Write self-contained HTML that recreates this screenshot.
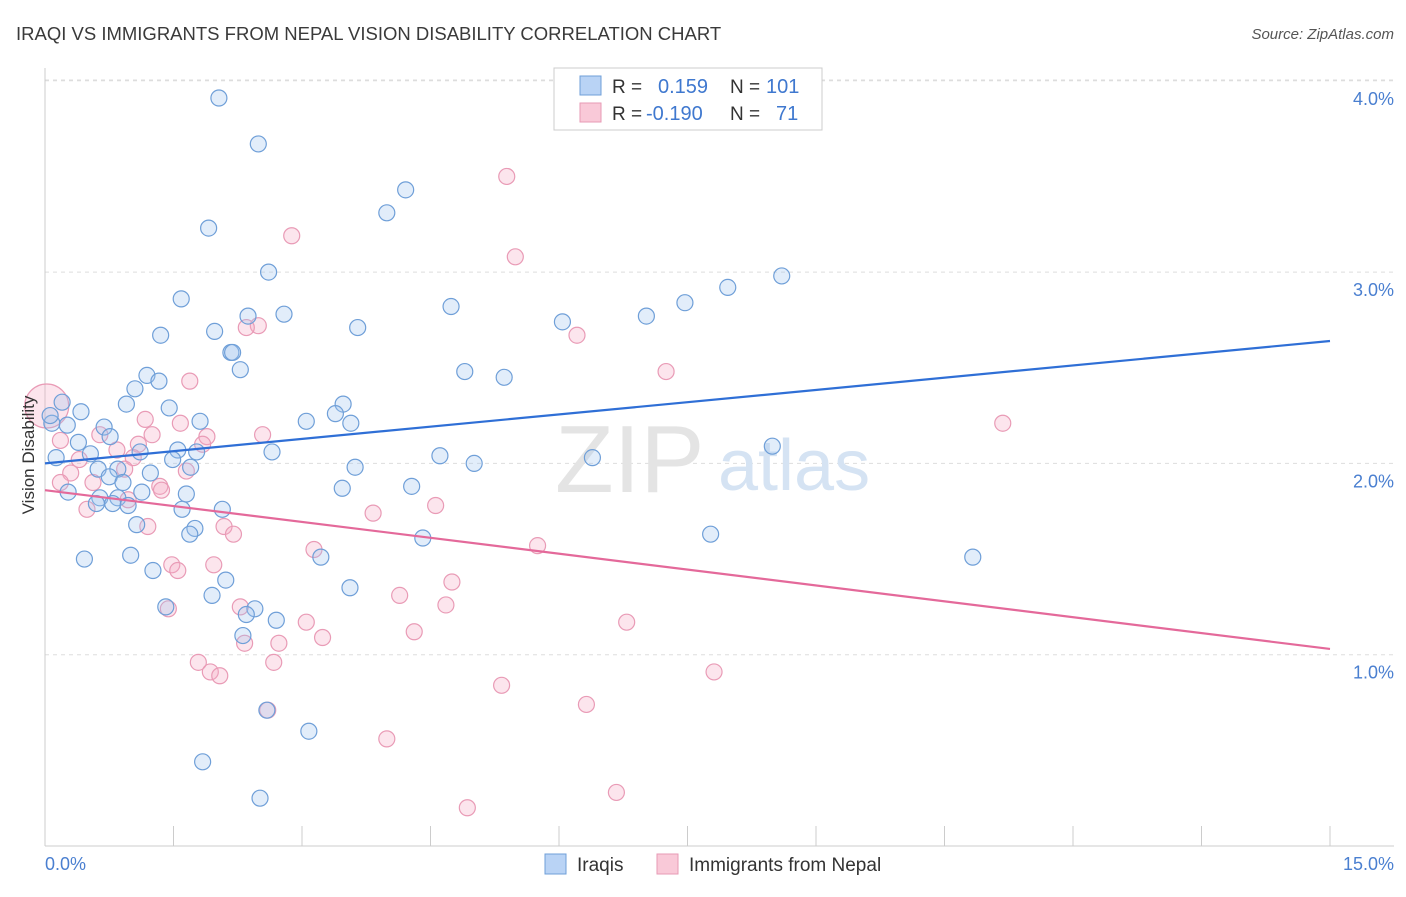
<!DOCTYPE html>
<html><head><meta charset="utf-8">
<style>
body{margin:0;background:#fff;font-family:"Liberation Sans",sans-serif;}
svg text{font-family:"Liberation Sans",sans-serif;}
</style></head>
<body>
<svg id="chart" width="1406" height="892" viewBox="0 0 1406 892" xmlns="http://www.w3.org/2000/svg">
<text x="16" y="40" font-size="18.5" fill="#3a3a3a">IRAQI VS IMMIGRANTS FROM NEPAL VISION DISABILITY CORRELATION CHART</text>
<text x="1394" y="39" font-size="15" fill="#555" font-style="italic" text-anchor="end">Source: ZipAtlas.com</text>
<g id="grid"></g>
<text x="555" y="492" font-size="96" fill="#e4e4e4" font-family="Liberation Serif">ZIP</text>
<text x="718" y="490" font-size="72" fill="#d5e3f3">atlas</text>
<g id="points"></g>
<g id="trends"></g>
<text transform="translate(34,455) rotate(-90)" font-size="17" fill="#333" text-anchor="middle">Vision Disability</text>
<text x="45" y="870" font-size="18" fill="#4a7fd0">0.0%</text>
<text x="1394" y="870" font-size="18" fill="#4a7fd0" text-anchor="end">15.0%</text>
<g>
<rect x="554" y="68" width="268" height="62" fill="#fff" stroke="#ccc"/>
<rect x="580" y="76" width="21" height="19" fill="#b9d3f5" stroke="#6f9fd8"/>
<rect x="580" y="103" width="21" height="19" fill="#f9c9d8" stroke="#e79ab5"/>
<text x="612" y="93" font-size="19" fill="#333">R =</text>
<text x="658" y="93" font-size="20" fill="#3f78cf">0.159</text>
<text x="730" y="93" font-size="19" fill="#333">N =</text>
<text x="766" y="93" font-size="20" fill="#3f78cf">101</text>
<text x="612" y="120" font-size="19" fill="#333">R =</text>
<text x="646" y="120" font-size="20" fill="#3f78cf">-0.190</text>
<text x="730" y="120" font-size="19" fill="#333">N =</text>
<text x="776" y="120" font-size="20" fill="#3f78cf">71</text>
</g>
<g>
<rect x="545" y="854" width="21" height="20" fill="#b9d3f5" stroke="#6f9fd8"/>
<text x="577" y="871" font-size="19" fill="#333">Iraqis</text>
<rect x="657" y="854" width="21" height="20" fill="#f9c9d8" stroke="#e79ab5"/>
<text x="689" y="871" font-size="19" fill="#333">Immigrants from Nepal</text>
</g>
</svg>
<script>
const yTicks=[1,2,3,4];
const yTickLabels=["1.0%","2.0%","3.0%","4.0%"];
const xTicks=[0,1.5,3,4.5,6,7.5,9,10.5,12,13.5,15];
const iraqiX=[2.03,2.49,4.21,3.99,1.91,2.61,8.60,7.97,1.59,7.47,4.74,2.79,7.02,2.37,6.04,3.65,1.98,1.35,2.17,2.28,4.90,5.36,1.19,1.33,1.05,0.95,3.48,1.45,0.42,3.39,0.20,3.05,3.57,1.81,0.26,0.08,0.69,0.76,0.39,1.11,1.55,1.77,2.65,8.49,4.61,0.13,0.53,1.49,6.39,5.01,1.70,3.62,0.62,0.85,1.23,0.75,0.91,4.28,0.27,1.13,1.65,3.47,0.64,0.85,0.60,0.79,0.97,1.60,2.07,1.07,1.75,1.69,4.41,7.77,3.22,1.00,0.46,10.83,1.26,2.11,3.56,1.95,1.41,2.45,2.35,2.70,2.31,2.59,3.08,1.84,2.51,0.06,2.19];
const iraqiY=[3.91,3.67,3.43,3.31,3.23,3.00,2.98,2.92,2.86,2.84,2.82,2.78,2.77,2.77,2.74,2.71,2.69,2.67,2.58,2.49,2.48,2.45,2.46,2.43,2.39,2.31,2.31,2.29,2.27,2.26,2.32,2.22,2.21,2.22,2.20,2.21,2.19,2.14,2.11,2.06,2.07,2.06,2.06,2.09,2.04,2.03,2.05,2.02,2.03,2.00,1.98,1.98,1.97,1.97,1.95,1.93,1.90,1.88,1.85,1.85,1.84,1.87,1.82,1.82,1.79,1.79,1.78,1.76,1.76,1.68,1.66,1.63,1.61,1.63,1.51,1.52,1.50,1.51,1.44,1.39,1.35,1.31,1.25,1.24,1.21,1.18,1.10,0.71,0.60,0.44,0.25,2.25,2.58];
const nepalX=[5.39,2.88,5.49,2.49,2.35,6.21,7.25,1.69,11.18,1.17,1.58,1.89,2.54,1.25,0.64,1.09,1.84,0.18,0.84,1.03,0.40,0.30,0.93,1.65,0.56,0.18,1.34,1.36,0.97,0.49,4.56,3.83,2.09,1.20,2.20,5.75,3.14,1.97,1.48,1.55,4.75,4.14,4.68,2.28,1.44,3.05,6.79,4.31,3.24,2.33,2.73,1.79,2.67,1.93,2.04,7.81,5.33,6.32,2.60,3.99,4.93,6.67];
const nepalY=[3.50,3.19,3.08,2.72,2.71,2.67,2.48,2.43,2.21,2.23,2.21,2.14,2.15,2.15,2.15,2.10,2.10,2.12,2.07,2.03,2.02,1.95,1.97,1.96,1.90,1.90,1.88,1.86,1.81,1.76,1.78,1.74,1.67,1.67,1.63,1.57,1.55,1.47,1.47,1.44,1.38,1.31,1.26,1.25,1.24,1.17,1.17,1.12,1.09,1.06,1.06,0.96,0.96,0.91,0.89,0.91,0.84,0.74,0.71,0.56,0.20,0.28];
const bigNepal=[0.02,2.30];
const trendIraqi=[2.00,2.64];
const trendNepal=[1.86,1.03];

const NS="http://www.w3.org/2000/svg";
const X0=45,X1=1330,Y0=846,YS=191.3;
function sx(v){return X0+(X1-X0)*v/15;}
function sy(v){return Y0-v*YS;}
function mk(t,a,p){const e=document.createElementNS(NS,t);for(const k in a)e.setAttribute(k,a[k]);p.appendChild(e);return e;}
const grid=document.getElementById('grid');
yTicks.forEach((t,i)=>{
 const l=mk('line',{x1:X0,x2:1394,y1:sy(t),y2:sy(t),stroke:'#ddd','stroke-dasharray':'4,4'},grid);
 
 
 const tx=mk('text',{x:1394,y:sy(t)+24,'font-size':18,fill:'#4a7fd0','text-anchor':'end'},grid);
 tx.textContent=yTickLabels[i];
 
 
});
const tl=mk('line',{x1:X0,x2:1394,y1:80,y2:80,stroke:'#ddd','stroke-dasharray':'4,4'},grid);


const ya=mk('line',{x1:X0,x2:X0,y1:68,y2:846,stroke:'#ccc'},grid);


const xa=mk('line',{x1:X0,x2:1394,y1:846,y2:846,stroke:'#ccc'},grid);


xTicks.forEach(t=>{
 const l=mk('line',{x1:sx(t),x2:sx(t),y1:826,y2:846,stroke:'#ccc'},grid);
 
 
});
const pts=document.getElementById('points');
nepalX.forEach((x,i)=>{
 const c=mk('circle',{cx:sx(x),cy:sy(nepalY[i]),r:8,fill:'rgba(245,170,195,0.3)',stroke:'#e99bb6','stroke-width':1.2},pts);
 
 
});
const bn=mk('circle',{cx:sx(bigNepal[0]),cy:sy(bigNepal[1]),r:22,fill:'rgba(245,170,195,0.3)',stroke:'#e99bb6','stroke-width':1.2},pts);


iraqiX.forEach((x,i)=>{
 const c=mk('circle',{cx:sx(x),cy:sy(iraqiY[i]),r:8,fill:'rgba(160,195,240,0.3)',stroke:'#6f9fd8','stroke-width':1.2},pts);
 
 
});
const tr=document.getElementById('trends');
const t1=mk('line',{x1:sx(0),y1:sy(trendIraqi[0]),x2:sx(15),y2:sy(trendIraqi[1]),stroke:'#2f6fd6','stroke-width':2.2},tr);


const t2=mk('line',{x1:sx(0),y1:sy(trendNepal[0]),x2:sx(15),y2:sy(trendNepal[1]),stroke:'#e4699a','stroke-width':2.2},tr);


</script>
</body></html>
